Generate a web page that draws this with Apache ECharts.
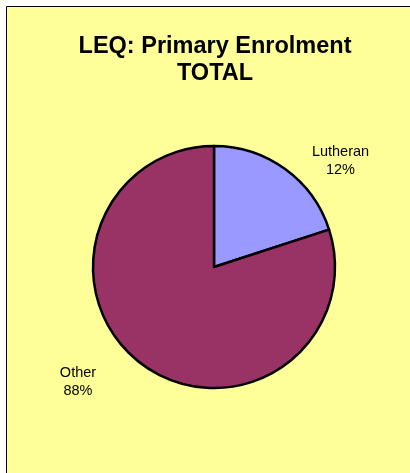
<!DOCTYPE html>
<html>
<head>
<meta charset="utf-8">
<script src="https://cdn.jsdelivr.net/npm/echarts@6/dist/echarts.min.js"></script>
<style>html,body{margin:0;padding:0;background:#fff;}#c{width:410px;height:473px;}</style>
</head>
<body>
<div id="c"></div>
<script>
var categories = ['Lutheran', 'Other'];
var sliceValues = [20, 80];
var percentLabels = ['12%', '88%'];
var titleText = 'LEQ: Primary Enrolment\nTOTAL';

var colors = ['#9999FF', '#993366'];
var labelSpots = [[340.5, 161], [78, 382]];

var chart = echarts.init(document.getElementById('c'), null, {renderer: 'canvas'});
chart.setOption({
  backgroundColor: '#ffffff',
  animation: false,
  graphic: [{
    type: 'rect', z: -10, silent: true,
    shape: {x: 6.5, y: 6.5, width: 420, height: 480},
    style: {fill: '#FFFF99', stroke: '#000', lineWidth: 1}
  }],
  title: {
    text: titleText,
    left: 210, top: 28,
    textAlign: 'center',
    textStyle: {fontFamily: 'Liberation Sans, Arial, sans-serif', fontSize: 23.5, fontWeight: 'bold', color: '#000', lineHeight: 27}
  },
  series: [{
    type: 'pie',
    center: [214, 267],
    radius: 121,
    startAngle: 90,
    clockwise: true,
    avoidLabelOverlap: false,
    data: categories.map(function (c, i) {
      return {name: c, value: sliceValues[i], itemStyle: {color: colors[i]}};
    }),
    itemStyle: {borderColor: '#000', borderWidth: 2.5},
    label: {
      show: true,
      position: 'outside',
      formatter: function (p) { return p.name + '\n' + percentLabels[p.dataIndex]; },
      fontFamily: 'Liberation Sans, Arial, sans-serif',
      fontSize: 14.5, color: '#000', lineHeight: 18, align: 'center'
    },
    labelLine: {show: false},
    labelLayout: function (p) {
      var s = labelSpots[p.dataIndex];
      return {x: s[0], y: s[1], align: 'center', verticalAlign: 'middle'};
    },
    emphasis: {disabled: true}
  }]
});
</script>
</body>
</html>
